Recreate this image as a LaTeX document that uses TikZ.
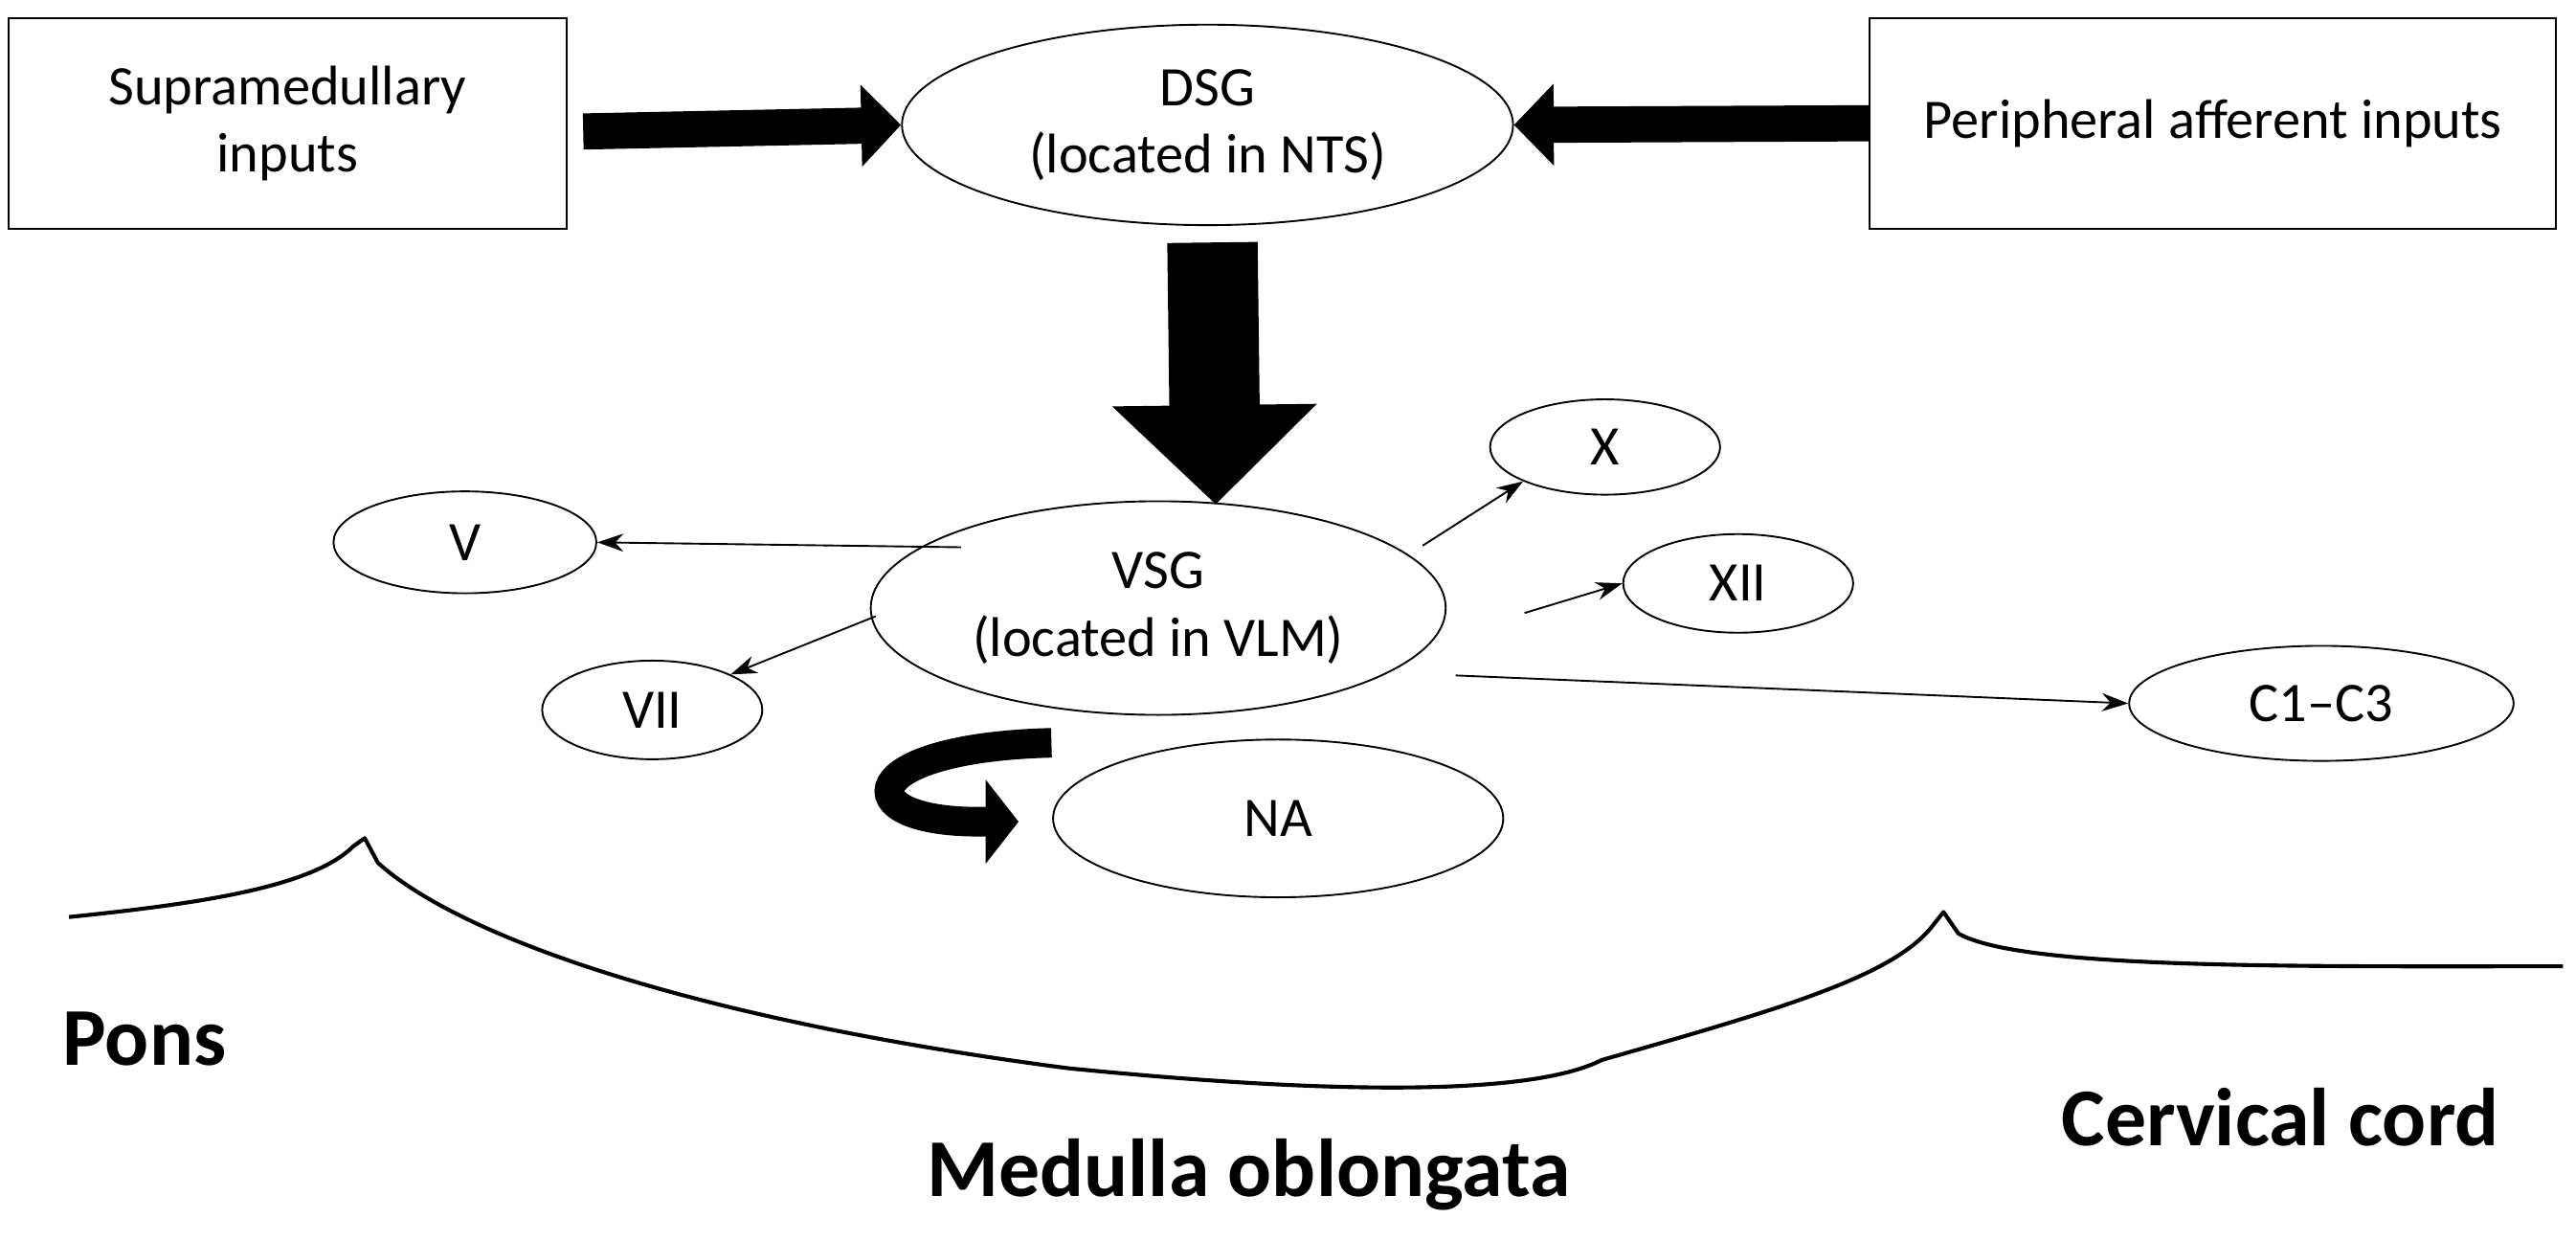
\documentclass[tikz,border=0pt]{standalone}
\usepackage{fontspec}
\setmainfont{Carlito}
\usetikzlibrary{arrows.meta,shapes.geometric}
\begin{document}
\begin{tikzpicture}[x=1pt,y=-1pt,
 txt/.style={font=\fontsize{34}{41}\selectfont,align=center},
 ell/.style={ellipse,draw,line width=1.1pt,txt,inner sep=0pt},
 box/.style={draw,line width=1.1pt,txt,inner sep=0pt},
 thin/.style={-{Stealth[length=16pt,width=11pt]},line width=1.1pt},
 fat/.style={line width=#1,-{Triangle[length=1.1*#1,width=2.2*#1]}},
 lab/.style={font=\fontsize{50}{56}\selectfont\bfseries}]
\useasboundingbox (0,0) rectangle (1568,755);
\node[box,minimum width=340,minimum height=128] (sup) at (175,75) {Supramedullary\\inputs};
\node[box,minimum width=418,minimum height=128] (per) at (1347,75) {Peripheral afferent inputs};
\node[ell,minimum width=372,minimum height=122] (dsg) at (735,76) {DSG\\(located in NTS)};
\node[ell,minimum width=350,minimum height=130] (vsg) at (705,370) {VSG\\(located in VLM)};
\node[ell,minimum width=160,minimum height=62] (v) at (283,330) {V};
\node[ell,minimum width=134,minimum height=60] (vii) at (397,432) {VII};
\node[ell,minimum width=140,minimum height=58] (x) at (977,272) {X};
\node[ell,minimum width=140,minimum height=60] (xii) at (1058,355) {XII};
\node[ell,minimum width=234,minimum height=70] (c) at (1413,428) {C1--C3};
\node[ell,minimum width=274,minimum height=96] (na) at (778,498) {NA};
\draw[fat=22pt] (355,80) -- (dsg.west);
\draw[fat=22pt] (per.west) -- (dsg.east);
\draw[fat=55pt] (dsg.south) ++(3,10) -- (740,307);
\draw[thin] (585,333) coordinate (a1) -- (v.east);
\draw[thin] (533,375) coordinate (a2) -- (vii.north east);
\draw[thin] (866,332) coordinate (a3) -- (x.south west);
\draw[thin] (928,373) coordinate (a4) -- (xii.west);
\draw[thin] (886,411) coordinate (a5) -- (c.west);
\draw[line width=18pt,-{Triangle[length=20pt,width=50pt]}] (640,452) .. controls (520,455) and (515,500) .. (595,500) -- (620,500) coordinate (a6);
\draw[line width=2.4pt,line join=round] (42,558) .. controls (120,550) and (190,540) .. (215,515) -- (222,510) -- (230,525)
 .. controls (280,570) and (420,620) .. (650,650) .. controls (800,665) and (930,668) .. (975,645)
 .. controls (1080,615) and (1150,595) .. (1175,565) -- (1183,555) -- (1192,568)
 .. controls (1230,590) and (1400,588) .. (1560,588);
\node[lab] (pons) at (88,632) {Pons};
\node[lab] (med) at (760,715) {Medulla oblongata};
\node[lab] (cerv) at (1388,680) {Cervical cord};
\end{tikzpicture}
\end{document}
